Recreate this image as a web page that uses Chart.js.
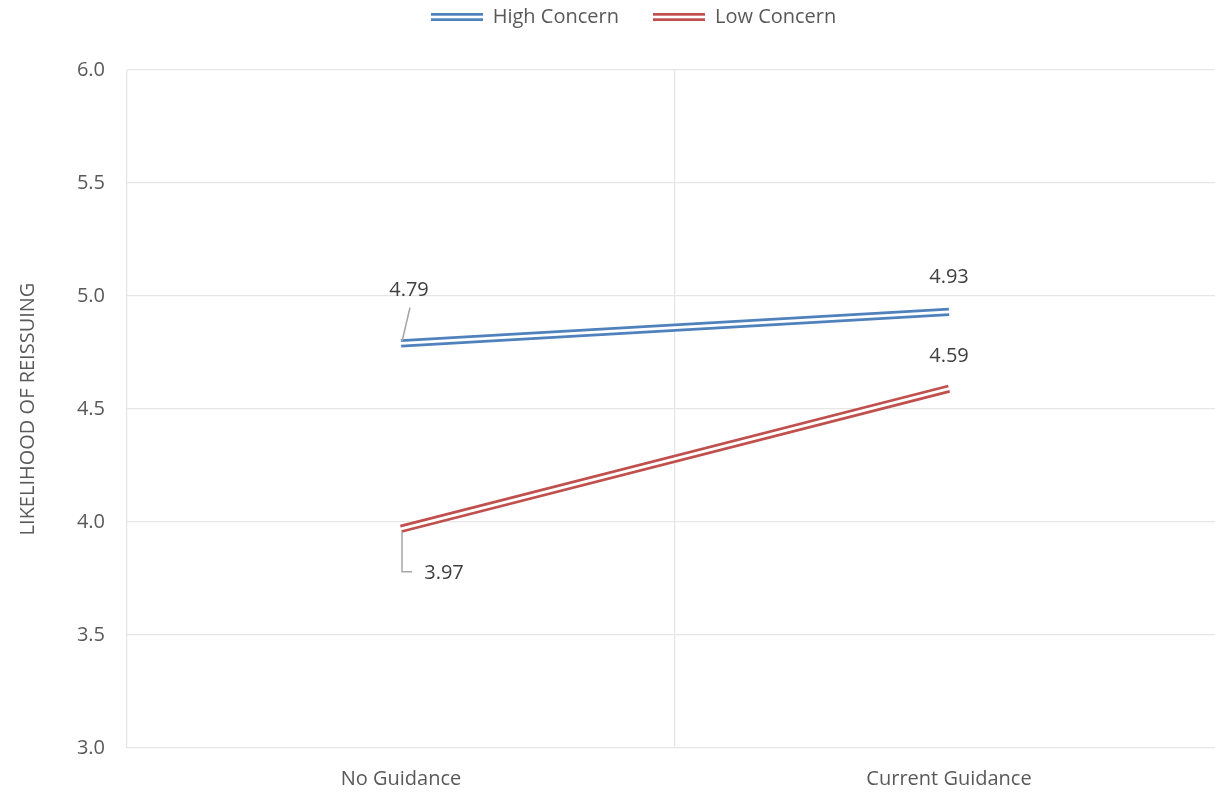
<!DOCTYPE html>
<html lang="en">
<head>
    <meta charset="UTF-8">
    <title>Likelihood of Reissuing</title>
    <style>
        html, body { margin: 0; padding: 0; background: #ffffff; overflow: hidden; }
        #wrap { width: 1215px; height: 794px; overflow: hidden; }
    </style>
</head>
<body>
    <!-- plot area runs a few px past the right edge, like the original -->
    <div id="wrap"><canvas id="chart" width="1223" height="794"></canvas></div>
    <script src="https://cdn.jsdelivr.net/npm/chart.js@4.4.1/dist/chart.umd.min.js"></script>
    <script>
        // chart data
        var categories = ['No Guidance', 'Current Guidance'];
        var highConcern = [4.79, 4.93];
        var lowConcern = [3.97, 4.59];
        var yTicks = [3.0, 3.5, 4.0, 4.5, 5.0, 5.5, 6.0];

        var BLUE = '#4f81bd';
        var RED = '#c0504d';
        var FONT = '"Open Sans", "Liberation Sans", sans-serif';

        // legend swatch: double line like Excel compound line
        function swatch(color) {
            var c = document.createElement('canvas');
            c.width = 52; c.height = 8;
            var g = c.getContext('2d');
            g.fillStyle = color;
            g.fillRect(0, 0, 52, 2.7);
            g.fillRect(0, 5.3, 52, 2.7);
            return c;
        }

        // make legend take a fixed height so the plot starts at y=70,
        // and nudge it right to sit where the original one is
        var legendHeight = {
            id: 'legendHeight',
            beforeInit: function(chart) {
                var orig = chart.legend.fit;
                chart.legend.fit = function() {
                    orig.bind(chart.legend)();
                    this.height = 97;
                };
            },
            afterLayout: function(chart) {
                chart.legend.left += 17;
                chart.legend.right += 17;
            }
        };

        // data labels with leader lines for the first category
        var labelPlugin = {
            id: 'labels',
            afterDatasetsDraw: function(chart) {
                var ctx = chart.ctx;
                ctx.save();
                ctx.font = '20px ' + FONT;
                ctx.fillStyle = '#404040';
                ctx.textAlign = 'center';
                ctx.textBaseline = 'middle';
                var hi = chart.getDatasetMeta(0).data;
                var lo = chart.getDatasetMeta(2).data;
                ctx.strokeStyle = '#a6a6a6';
                ctx.lineWidth = 1.5;
                // High, No Guidance: above-left with leader
                var p = hi[0];
                ctx.beginPath();
                ctx.moveTo(p.x + 9, p.y - 36);
                ctx.lineTo(p.x + 1, p.y - 2);
                ctx.stroke();
                ctx.fillText(highConcern[0].toFixed(2), p.x + 8, p.y - 53);
                // High, Current Guidance
                p = hi[1];
                ctx.fillText(highConcern[1].toFixed(2), p.x, p.y - 35);
                // Low, No Guidance: below-right with elbow leader
                p = lo[0];
                ctx.beginPath();
                ctx.moveTo(p.x + 1, p.y + 3);
                ctx.lineTo(p.x + 1, p.y + 43);
                ctx.lineTo(p.x + 11, p.y + 43);
                ctx.stroke();
                ctx.fillText(lowConcern[0].toFixed(2), p.x + 43, p.y + 45);
                // Low, Current Guidance
                p = lo[1];
                ctx.fillText(lowConcern[1].toFixed(2), p.x, p.y - 32);
                ctx.restore();
            }
        };

        function series(label, data, color, inner) {
            return {
                label: label,
                data: data,
                borderColor: inner ? '#ffffff' : color,
                borderWidth: inner ? 2.8 : 8.2,
                order: inner ? 0 : 1,
                pointRadius: 0,
                tension: 0,
                fill: false,
                borderCapStyle: 'butt'
            };
        }

        var ctx = document.getElementById('chart').getContext('2d');
        var chart = new Chart(ctx, {
            type: 'line',
            data: {
                labels: categories,
                datasets: [
                    series('High Concern', highConcern, BLUE, false),
                    series('High Concern inner', highConcern, BLUE, true),
                    series('Low Concern', lowConcern, RED, false),
                    series('Low Concern inner', lowConcern, RED, true)
                ]
            },
            options: {
                responsive: false,
                animation: false,
                layout: { padding: { left: 10, right: 0, top: -27, bottom: 0 } },
                scales: {
                    x: {
                        offset: true,
                        afterFit: function(s) { s.height = 46; },
                        grid: { offset: true, color: '#e6e6e6', lineWidth: 1.3, drawTicks: false },
                        border: { display: false },
                        ticks: { color: '#595959', font: { family: FONT, size: 20 }, padding: 19 }
                    },
                    y: {
                        min: 3.0,
                        max: 6.0,
                        afterBuildTicks: function(s) { s.ticks = yTicks.map(function(v) { return { value: v }; }); },
                        afterFit: function(s) { s.width = 117; },
                        grid: { color: '#e6e6e6', lineWidth: 1.3, drawTicks: false },
                        border: { display: false },
                        title: { display: true, text: 'LIKELIHOOD OF REISSUING', color: '#595959', font: { family: FONT, size: 20 }, padding: { top: 6, bottom: 0 } },
                        ticks: {
                            color: '#595959', font: { family: FONT, size: 20 }, padding: 22,
                            callback: function(v) { return Number(v).toFixed(1); }
                        }
                    }
                },
                plugins: {
                    legend: {
                        position: 'top',
                        labels: {
                            color: '#595959',
                            font: { family: FONT, size: 20 },
                            usePointStyle: true,
                            pointStyleWidth: 52,
                            boxHeight: 8,
                            padding: 34,
                            generateLabels: function(c) {
                                return [
                                    { text: 'High Concern', pointStyle: swatch(BLUE), datasetIndex: 0, fontColor: '#595959', lineWidth: 0, strokeStyle: 'transparent', fillStyle: 'transparent' },
                                    { text: 'Low Concern', pointStyle: swatch(RED), datasetIndex: 2, fontColor: '#595959', lineWidth: 0, strokeStyle: 'transparent', fillStyle: 'transparent' }
                                ];
                            }
                        }
                    },
                    tooltip: { enabled: false }
                }
            },
            plugins: [labelPlugin, legendHeight]
        });
    </script>
</body>
</html>
